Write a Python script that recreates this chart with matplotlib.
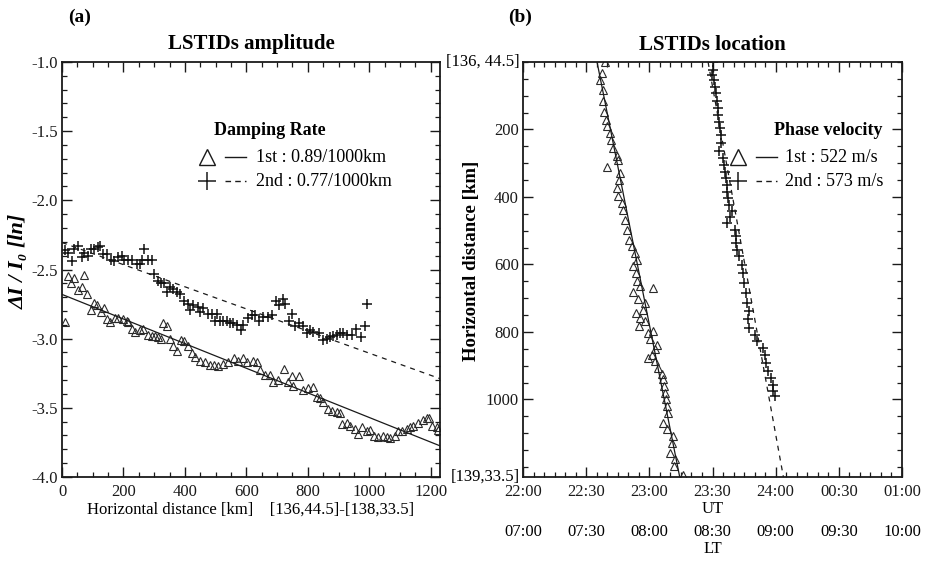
import matplotlib
matplotlib.use('Agg')
import matplotlib.pyplot as plt
from matplotlib.ticker import MultipleLocator, FixedLocator
import numpy as np

plt.rcParams['font.family'] = ['Liberation Serif', 'DejaVu Serif']
plt.rcParams['axes.unicode_minus'] = False

# ---------------- data: (a) amplitude ----------------
amp_tri_km = [10, 20, 29, 40, 51, 64, 73, 82, 94, 105, 113, 127, 138, 146, 156, 172, 183, 200, 211, 216,
              229, 238, 254, 265, 281, 292, 303, 313, 322, 330, 341, 351, 362, 373, 387, 398, 409, 422, 433, 449,
              465, 482, 496, 509, 525, 541, 561, 574, 590, 601, 623, 634, 644, 661, 677, 688, 704, 723, 736, 748,
              753, 772, 785, 802, 816, 829, 840, 850, 867, 878, 894, 905, 910, 927, 937, 954, 964, 975, 992, 1002,
              1015, 1029, 1046, 1057, 1067, 1084, 1094, 1105, 1122, 1132, 1143, 1159, 1176, 1187, 1195, 1203, 1219, 1225]
amp_tri_val = [-2.88, -2.55, -2.60, -2.56, -2.65, -2.63, -2.54, -2.68, -2.79, -2.74, -2.76, -2.81, -2.78, -2.86, -2.88, -2.85, -2.85, -2.86, -2.87, -2.88,
               -2.93, -2.95, -2.94, -2.93, -2.97, -2.98, -2.98, -2.99, -3.00, -2.89, -2.91, -3.00, -3.05, -3.09, -3.01, -3.02, -3.05, -3.10, -3.13, -3.16,
               -3.17, -3.19, -3.19, -3.20, -3.18, -3.17, -3.14, -3.16, -3.14, -3.17, -3.16, -3.17, -3.23, -3.26, -3.26, -3.31, -3.30, -3.22, -3.31, -3.27,
               -3.34, -3.27, -3.37, -3.36, -3.35, -3.42, -3.43, -3.46, -3.51, -3.52, -3.53, -3.54, -3.62, -3.61, -3.63, -3.65, -3.69, -3.64, -3.67, -3.66,
               -3.70, -3.71, -3.70, -3.71, -3.72, -3.70, -3.67, -3.67, -3.65, -3.64, -3.63, -3.61, -3.59, -3.57, -3.57, -3.63, -3.64, -3.66]

amp_crs_km = [10, 19, 32, 40, 53, 64, 73, 84, 94, 105, 116, 124, 134, 146, 160, 170, 183, 194, 203, 216,
              229, 243, 254, 261, 268, 281, 292, 300, 311, 322, 333, 341, 351, 362, 373, 384, 398, 409, 417, 427,
              442, 449, 460, 474, 487, 498, 503, 514, 525, 536, 547, 557, 569, 583, 590, 604, 617, 628, 641, 655,
              669, 682, 696, 707, 718, 726, 740, 748, 758, 772, 783, 796, 807, 818, 837, 850, 861, 872, 883, 894,
              905, 915, 928, 943, 957, 972, 986, 994]
amp_crs_val = [-2.36, -2.38, -2.44, -2.35, -2.33, -2.41, -2.38, -2.40, -2.35, -2.35, -2.34, -2.33, -2.39, -2.39, -2.43, -2.44, -2.41, -2.40, -2.43, -2.43,
               -2.43, -2.46, -2.46, -2.43, -2.35, -2.43, -2.43, -2.53, -2.58, -2.60, -2.60, -2.66, -2.63, -2.64, -2.66, -2.68, -2.73, -2.75, -2.79, -2.76,
               -2.77, -2.81, -2.78, -2.82, -2.82, -2.87, -2.82, -2.87, -2.87, -2.87, -2.89, -2.89, -2.90, -2.94, -2.90, -2.85, -2.83, -2.83, -2.87, -2.84,
               -2.84, -2.83, -2.73, -2.76, -2.71, -2.75, -2.87, -2.82, -2.91, -2.89, -2.91, -2.96, -2.94, -2.95, -2.96, -3.01, -3.00, -2.99, -2.98, -2.97,
               -2.96, -2.96, -2.97, -2.97, -2.93, -2.99, -2.91, -2.75]

amp_fit1 = (-2.68, -0.89)   # intercept, slope per 1000 km (solid)
amp_fit2 = (-2.305, -0.80)  # intercept, slope per 1000 km (dashed)
amp_xmax = 1230

# ---------------- data: (b) location ----------------
loc_tri_t = [22.649, 22.623, 22.610, 22.631, 22.631, 22.641, 22.657, 22.667, 22.689, 22.694, 22.715, 22.742, 22.755, 22.663, 22.768,
             22.762, 22.742, 22.755, 22.781, 22.789, 22.808, 22.826, 22.842, 22.861, 22.887, 22.900, 22.873, 22.895, 22.905, 22.926,
             23.027, 22.873, 22.913, 22.966, 22.948, 22.895, 22.926, 22.966, 22.921, 22.992, 23.032, 23.006, 23.063, 23.045, 23.019,
             22.992, 23.045, 23.071, 23.098, 23.111, 23.116, 23.124, 23.132, 23.138, 23.150, 23.111, 23.138, 23.190, 23.177, 23.164,
             23.203, 23.196, 23.267]
loc_tri_d = [0, 33, 53, 83, 117, 147, 172, 191, 211, 231, 255, 280, 290, 310, 329,
             349, 374, 398, 418, 438, 467, 497, 527, 546, 566, 586, 606, 625, 650, 665,
             670, 683, 702, 714, 734, 743, 758, 768, 783, 803, 798, 822, 840, 852, 867,
             877, 887, 906, 926, 941, 961, 980, 1000, 1020, 1039, 1069, 1089, 1109, 1128, 1158,
             1178, 1197, 1225]

loc_crs_t = [23.502, 23.507, 23.494, 23.512, 23.520, 23.528, 23.534, 23.546, 23.546, 23.554, 23.560, 23.568, 23.565, 23.554, 23.586,
             23.591, 23.599, 23.607, 23.613, 23.618, 23.625, 23.633, 23.652, 23.639, 23.613, 23.679, 23.686, 23.686, 23.697, 23.713,
             23.732, 23.744, 23.750, 23.766, 23.771, 23.792, 23.784, 23.792, 23.837, 23.855, 23.898, 23.916, 23.924, 23.942, 23.961,
             23.977, 23.982, 23.995]
loc_crs_d = [0, 24, 38, 53, 73, 93, 117, 137, 157, 177, 196, 216, 241, 265, 285,
             305, 325, 344, 364, 384, 403, 423, 443, 458, 477, 497, 517, 536, 556, 576,
             601, 625, 655, 685, 714, 739, 763, 788, 808, 828, 847, 867, 891, 916, 936,
             956, 975, 990]

loc_fit1 = (22.586, 522)   # start time [h UT], phase velocity [m/s] (solid)
loc_fit2 = (23.465, 573)   # dashed
loc_dmax = 1230

ut_labels = ['22:00', '22:30', '23:00', '23:30', '24:00', '00:30', '01:00']
lt_labels = ['07:00', '07:30', '08:00', '08:30', '09:00', '09:30', '10:00']
ut_ticks = [22.0, 22.5, 23.0, 23.5, 24.0, 24.5, 25.0]

W, H = 930, 562
fig = plt.figure(figsize=(W / 100, H / 100), dpi=100)

def fx(px):
    return px / W

def fy(py):
    return 1 - py / H

ink = '#1a1a1a'
tri_kw = dict(linestyle='none', marker='^', mfc='none', mec='#2a2a2a', ms=6, mew=0.8)
crs_kw = dict(linestyle='none', marker='+', color='#111111', ms=6.5, mew=1.1)

def style_ticks(ax):
    ax.tick_params(which='both', direction='in', top=True, right=True, colors=ink, labelsize=12)
    ax.tick_params(which='major', length=7, width=1.0)
    ax.tick_params(which='minor', length=3.5, width=0.9)
    for s in ax.spines.values():
        s.set_linewidth(1.3)
        s.set_color(ink)

# ---------------- panel (a) ----------------
ax1 = fig.add_axes([fx(62), fy(477), fx(378), 415 / H])
ax1.plot(amp_crs_km, amp_crs_val, **crs_kw)
ax1.plot(amp_tri_km, amp_tri_val, **tri_kw)
xx = np.array([0, amp_xmax])
ax1.plot(xx, amp_fit1[0] + amp_fit1[1] * xx / 1000, color=ink, lw=0.9)
ax1.plot(xx, amp_fit2[0] + amp_fit2[1] * xx / 1000, color=ink, lw=0.9, dashes=(4, 4))
ax1.set_xlim(0, amp_xmax)
ax1.set_ylim(-4.0, -1.0)
ax1.xaxis.set_major_locator(MultipleLocator(200))
ax1.xaxis.set_minor_locator(MultipleLocator(50))
ax1.yaxis.set_major_locator(MultipleLocator(0.5))
ax1.yaxis.set_minor_locator(MultipleLocator(0.1))
ax1.yaxis.set_major_formatter(plt.FuncFormatter(lambda v, p: f'{v:.1f}'))
style_ticks(ax1)
ax1.tick_params(axis='x', pad=5)
ax1.tick_params(axis='y', pad=3)
ax1.set_title('LSTIDs amplitude', fontsize=15, fontweight='bold', pad=9)
ax1.set_xlabel('Horizontal distance [km]    [136,44.5]-[138,33.5]', fontsize=12, labelpad=1)
ax1.set_ylabel('ΔI / I₀ [ln]', fontsize=16, fontweight='bold', fontstyle='italic')
ax1.yaxis.set_label_coords((29 - 62) / 378, 0.52)

# legend (a)
tA = ax1.transAxes
ax1.text(0.55, 0.836, 'Damping Rate', transform=tA, ha='center', va='center', fontsize=13, fontweight='bold')
ax1.plot([0.384], [0.771], transform=tA, marker='^', mfc='none', mec=ink, ms=12, mew=1.0, linestyle='none')
ax1.plot([0.432, 0.488], [0.771, 0.771], transform=tA, color=ink, lw=1.0)
ax1.text(0.512, 0.771, '1st : 0.89/1000km', transform=tA, ha='left', va='center', fontsize=13)
ax1.plot([0.384], [0.713], transform=tA, marker='+', color=ink, ms=13, mew=1.1, linestyle='none')
ax1.plot([0.432, 0.488], [0.713, 0.713], transform=tA, color=ink, lw=1.0, dashes=(4, 3))
ax1.text(0.512, 0.713, '2nd : 0.77/1000km', transform=tA, ha='left', va='center', fontsize=13)

fig.text(fx(80), fy(17), '(a)', fontsize=14, fontweight='bold', ha='center', va='center')

# ---------------- panel (b) ----------------
ax2 = fig.add_axes([fx(523), fy(477), fx(379), 415 / H])
ax2.plot(loc_crs_t, loc_crs_d, **crs_kw)
ax2.plot(loc_tri_t, loc_tri_d, **tri_kw)
dd = np.array([0, loc_dmax])
for (t0, v), st in ((loc_fit1, dict()), (loc_fit2, dict(dashes=(4, 4)))):
    ax2.plot(t0 + dd * 1000 / v / 3600, dd, color=ink, lw=0.9, **st)
ax2.set_xlim(22.0, 25.0)
ax2.set_ylim(loc_dmax, 0)
ax2.xaxis.set_major_locator(FixedLocator(ut_ticks))
ax2.xaxis.set_minor_locator(MultipleLocator(1 / 12))
ax2.set_xticklabels(ut_labels)
ax2.yaxis.set_major_locator(FixedLocator([200, 400, 600, 800, 1000]))
ax2.yaxis.set_minor_locator(MultipleLocator(50))
style_ticks(ax2)
ax2.tick_params(axis='x', pad=5)
ax2.tick_params(axis='y', pad=3)
ax2.set_title('LSTIDs location', fontsize=15, fontweight='bold', pad=9)
ax2.set_ylabel('Horizontal distance [km]', fontsize=13.5, fontweight='bold')
ax2.yaxis.set_label_coords((480 - 523) / 379, 0.52)
ax2.text(-0.008, 1.0, '[136, 44.5]', transform=ax2.transAxes, ha='right', va='center', fontsize=12)
ax2.text(-0.008, 0.0, '[139,33.5]', transform=ax2.transAxes, ha='right', va='center', fontsize=12)

# second label rows
for t, lab in zip(ut_ticks, lt_labels):
    fig.text(fx(523 + (t - 22) * 379 / 3), fy(532), lab, ha='center', va='center', fontsize=12)
fig.text(fx(523 + 1.5 * 379 / 3), fy(509), 'UT', ha='center', va='center', fontsize=12)
fig.text(fx(523 + 1.5 * 379 / 3), fy(549), 'LT', ha='center', va='center', fontsize=12)

# legend (b)
tB = ax2.transAxes
ax2.text(0.805, 0.836, 'Phase velocity', transform=tB, ha='center', va='center', fontsize=13, fontweight='bold')
ax2.plot([0.567], [0.771], transform=tB, marker='^', mfc='none', mec=ink, ms=12, mew=1.0, linestyle='none')
ax2.plot([0.615, 0.670], [0.771, 0.771], transform=tB, color=ink, lw=1.0)
ax2.text(0.692, 0.771, '1st : 522 m/s', transform=tB, ha='left', va='center', fontsize=13)
ax2.plot([0.567], [0.713], transform=tB, marker='+', color=ink, ms=13, mew=1.1, linestyle='none')
ax2.plot([0.615, 0.670], [0.713, 0.713], transform=tB, color=ink, lw=1.0, dashes=(4, 3))
ax2.text(0.692, 0.713, '2nd : 573 m/s', transform=tB, ha='left', va='center', fontsize=13)

fig.text(fx(520), fy(17), '(b)', fontsize=14, fontweight='bold', ha='center', va='center')

fig.savefig('out.png', dpi=100)
